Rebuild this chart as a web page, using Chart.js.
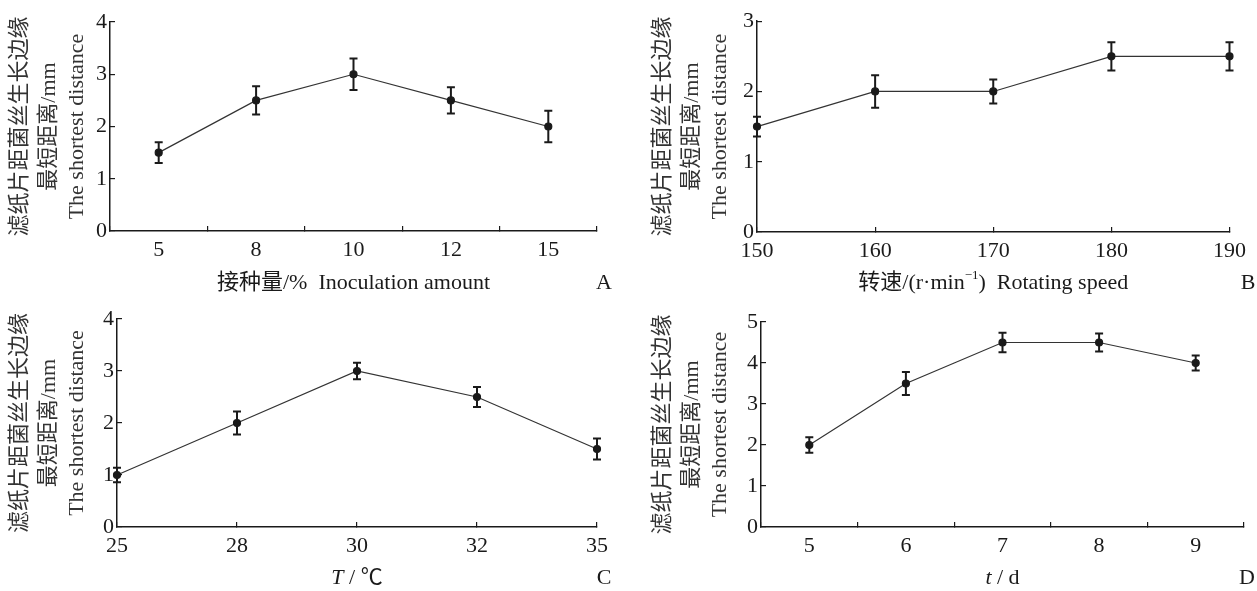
<!DOCTYPE html>
<html>
<head>
<meta charset="utf-8">
<script src="https://cdn.jsdelivr.net/npm/chart.js@4"></script>
<style>
  body { margin: 0; background: #fff; }
  #wrap { position: relative; width: 1257px; height: 591px; }
  #wrap canvas { position: absolute; }
</style>
</head>
<body>
<div id="wrap">
  <canvas id="chartA" width="628" height="295" style="left:0;top:0"></canvas>
  <canvas id="chartB" width="629" height="295" style="left:628px;top:0"></canvas>
  <canvas id="chartC" width="628" height="296" style="left:0;top:295px"></canvas>
  <canvas id="chartD" width="629" height="296" style="left:628px;top:295px"></canvas>
</div>
<script>
// data (mean and error bar half-length)

var inocLabels = ['5', '8', '10', '12', '15'];
var inocValues = [1.5, 2.5, 3.0, 2.5, 2.0];
var inocErrors = [0.2, 0.27, 0.3, 0.25, 0.3];

var speedLabels = ['150', '160', '170', '180', '190'];
var speedValues = [1.5, 2.0, 2.0, 2.5, 2.5];
var speedErrors = [0.14, 0.23, 0.17, 0.2, 0.2];

var tempLabels = ['25', '28', '30', '32', '35'];
var tempValues = [1.0, 2.0, 3.0, 2.5, 1.5];
var tempErrors = [0.14, 0.22, 0.16, 0.19, 0.2];

var dayLabels = ['5', '6', '7', '8', '9'];
var dayValues = [2.0, 3.5, 4.5, 4.5, 4.0];
var dayErrors = [0.19, 0.28, 0.24, 0.22, 0.18];

var yTitle = ['滤纸片距菌丝生长边缘', '最短距离/mm', 'The shortest distance'];

var FONT = "'Liberation Serif', 'Noto Sans CJK SC', serif";
var INK = '#1a1a1a';

// vertical error bars from the y scale
var errorBars = {
	id: 'errorBars',
	afterDatasetsDraw: function(chart, args, opts) {
		var ctx = chart.ctx;
		var y = chart.scales.y;
		var meta = chart.getDatasetMeta(0);
		var vals = chart.data.datasets[0].data;
		ctx.save();
		ctx.strokeStyle = INK;
		ctx.lineWidth = 2;
		meta.data.forEach(function(pt, i) {
			var top = y.getPixelForValue(vals[i] + opts.errors[i]);
			var bot = y.getPixelForValue(vals[i] - opts.errors[i]);
			ctx.beginPath();
			ctx.moveTo(pt.x, top); ctx.lineTo(pt.x, bot);
			ctx.moveTo(pt.x - 4, top); ctx.lineTo(pt.x + 4, top);
			ctx.moveTo(pt.x - 4, bot); ctx.lineTo(pt.x + 4, bot);
			ctx.stroke();
		});
		ctx.restore();
	}
};

// x axis caption (mixed italic / superscript) and panel letter
var panelText = {
	id: 'panelText',
	afterDraw: function(chart, args, opts) {
		var ctx = chart.ctx, area = chart.chartArea;
		var fontOf = function(p) {
			return (p.italic ? 'italic ' : '') + (p.sup ? 13 : 22) + 'px ' + FONT;
		};
		ctx.save();
		ctx.fillStyle = INK;
		ctx.textBaseline = 'middle';
		ctx.textAlign = 'left';
		var w = 0;
		opts.caption.forEach(function(p) { ctx.font = fontOf(p); w += ctx.measureText(p.t).width; });
		var x = (area.left + area.right) / 2 - w / 2;
		opts.caption.forEach(function(p) {
			ctx.font = fontOf(p);
			ctx.fillText(p.t, x, opts.y - (p.sup ? 7 : 0));
			x += ctx.measureText(p.t).width;
		});
		ctx.font = '22px ' + FONT;
		ctx.textAlign = 'center';
		ctx.fillText(opts.letter, opts.letterX, opts.y);
		ctx.restore();
	}
};

function makePanel(id, labels, values, errors, p) {
	return new Chart(document.getElementById(id), {
		type: 'line',
		data: {
			labels: labels,
			datasets: [{
				data: values,
				borderColor: '#333',
				borderWidth: 1.2,
				pointRadius: 3.5,
				pointBackgroundColor: INK,
				pointBorderColor: INK,
				tension: 0,
				clip: false
			}]
		},
		options: {
			responsive: false,
			animation: false,
			layout: { padding: { left: 0, top: p.top, right: p.right, bottom: 0 } },
			plugins: {
				legend: { display: false },
				tooltip: { enabled: false },
				errorBars: { errors: errors },
				panelText: { caption: p.caption, letter: p.letter, letterX: p.letterX, y: 283 }
			},
			scales: {
				x: {
					offset: p.offset,
					afterFit: function(s) { s.height = p.xHeight; },
					border: { display: true, color: INK, width: 1.5 },
					grid: { display: true, drawOnChartArea: false, drawTicks: true, tickLength: -5, color: INK, lineWidth: 1.2, offset: p.offset },
					ticks: { color: INK, padding: 11, maxRotation: 0, autoSkip: false, font: { family: FONT, size: 22, lineHeight: 1.2 } }
				},
				y: {
					min: 0,
					max: p.yMax,
					afterFit: function(s) { s.width = p.yWidth; },
					border: { display: true, color: INK, width: 1.5 },
					grid: { display: true, drawOnChartArea: false, drawTicks: true, tickLength: -5, color: INK, lineWidth: 1.2 },
					ticks: { stepSize: 1, color: INK, padding: 8, font: { family: FONT, size: 22 } },
					title: {
						display: true,
						text: yTitle,
						color: '#333',
						padding: { top: p.titlePad, bottom: 0 },
						font: { family: FONT, size: 22, lineHeight: 28.5 / 22 }
					}
				}
			}
		},
		plugins: [errorBars, panelText]
	});
}

makePanel('chartA', inocLabels, inocValues, inocErrors, {
	top: 22, right: 31, xHeight: 64, yWidth: 110, yMax: 4, offset: true, titlePad: 6,
	caption: [{ t: '接种量/%  Inoculation amount' }], letter: 'A', letterX: 604
});

makePanel('chartB', speedLabels, speedValues, speedErrors, {
	top: 18, right: 18, xHeight: 63, yWidth: 129, yMax: 3, offset: false, titlePad: 21,
	caption: [{ t: '转速/(r·min' }, { t: '−1', sup: true }, { t: ')  Rotating speed' }], letter: 'B', letterX: 620
});

makePanel('chartC', tempLabels, tempValues, tempErrors, {
	top: 24, right: 31, xHeight: 64, yWidth: 117, yMax: 4, offset: false, titlePad: 6,
	caption: [{ t: 'T', italic: true }, { t: ' / ℃' }], letter: 'C', letterX: 604
});

makePanel('chartD', dayLabels, dayValues, dayErrors, {
	top: 27, right: 13, xHeight: 64, yWidth: 133, yMax: 5, offset: true, titlePad: 21,
	caption: [{ t: 't', italic: true }, { t: ' / d' }], letter: 'D', letterX: 619
});
</script>
</body>
</html>
